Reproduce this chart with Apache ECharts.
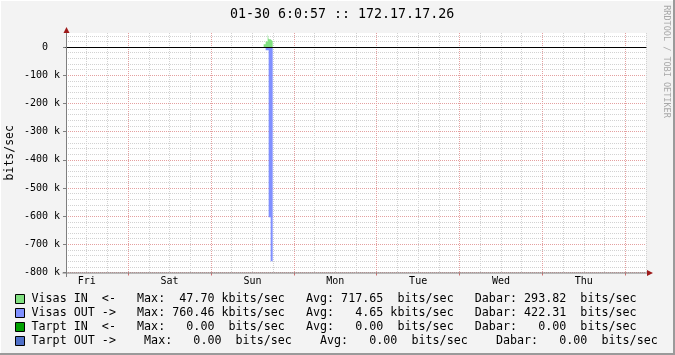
<!DOCTYPE html>
<html><head><meta charset="utf-8">
<script src="https://cdn.jsdelivr.net/npm/echarts@6/dist/echarts.min.js"></script>
<style>html,body{margin:0;padding:0;background:#F3F3F3}#c{width:675px;height:355px}</style>
</head><body><div id="c"></div>
<script>
// ---------- data ----------
const titleText = '01-30 6:0:57 :: 172.17.17.26';
const yAxisTitle = 'bits/sec';
const watermark = 'RRDTOOL / TOBI OETIKER';
const dayNames = ['Fri', 'Sat', 'Sun', 'Mon', 'Tue', 'Wed', 'Thu'];
const hourMin = 6, hourMax = 174;            // hours counted from Fri 00:00
const yMin = -800000, yMax = 50000;
const yMajorTicks = [-800000, -700000, -600000, -500000, -400000, -300000, -200000, -100000, 0];
const seriesNames = ['Visas IN', 'Visas OUT', 'Tarpt IN', 'Tarpt OUT'];
const seriesArrows = ['<-', '->', '<-', '->'];
const visasIn  = [[63.25, 10000], [63.83, 20000], [64.41, 47700], [64.70, 28000], [65.28, 21000], [65.86, 0]];
const visasOut = [[63.83, -11000], [64.70, -604000], [65.28, -760460], [65.86, 0]];
const tarptIn  = [];
const tarptOut = [];
const maxVals  = [47.70, 760.46, 0.00, 0.00];
const maxUnits = ['k', 'k', ' ', ' '];
const avgVals  = [717.65, 4.65, 0.00, 0.00];
const avgUnits = [' ', 'k', ' ', ' '];
const curVals  = [293.82, 422.31, 0.00, 0.00];
const curUnits = [' ', ' ', ' ', ' '];

// ---------- style / layout ----------
const FONT = 'DejaVu Sans Mono';
const colors = ['#80E080', '#8090FF', '#00A000', '#5070C8'];
const gridMinor = '#D2D2D2', gridMajor = '#E4A0A0';
const rowGaps = [3, 3, 3, 4];
const G = { left: 66, right: 29, top: 33, bottom: 82.5 };
const W = 675, H = 355;
const axisX = G.left + 0.5, axisY = H - G.bottom + 0.5;
const arrowColor = '#9E1A1A';

const dataSets = [visasIn, visasOut, tarptIn, tarptOut];
const midnightTicks = dayNames.map((d, i) => 24 * (i + 1));
const noonTicks = dayNames.map((d, i) => 12 + 24 * i);

function part(label, v, unit) {
  return label + ':' + v.toFixed(2).padStart(7) + ' ' + unit + 'bits/sec';
}
function legendRow(i) {
  const gap = ' '.repeat(rowGaps[i]);
  return seriesNames[i].padEnd(10) + seriesArrows[i] + gap +
    part('Max', maxVals[i], maxUnits[i]) + gap +
    part('Avg', avgVals[i], avgUnits[i]) + gap +
    part('Dabar', curVals[i], curUnits[i]);
}

const hidden = { axisLine: { show: false, onZero: false }, axisTick: { show: false }, axisLabel: { show: false }, splitLine: { show: false } };

const chart = echarts.init(document.getElementById('c'), null, { renderer: 'canvas', width: W, height: H });
chart.setOption({
  backgroundColor: '#F3F3F3',
  animation: false,
  title: {
    text: titleText, left: 230, top: 8, padding: 0,
    textStyle: { fontFamily: FONT, fontSize: 13.3, fontWeight: 'normal', color: '#000' }
  },
  legend: {
    orient: 'vertical', left: 15, top: 292, itemGap: 0, itemWidth: 9, itemHeight: 9,
    icon: 'rect', selectedMode: false, padding: 0,
    itemStyle: { borderColor: '#000', borderWidth: 1 },
    textStyle: { fontFamily: FONT, fontSize: 11.7, color: '#000', lineHeight: 14, padding: [0, 0, 0, 2] },
    data: seriesNames,
    formatter: name => legendRow(seriesNames.indexOf(name))
  },
  grid: { left: G.left, right: G.right, top: G.top, bottom: G.bottom, show: true, backgroundColor: '#FFFFFF', borderWidth: 0, containLabel: false, outerBoundsMode: 'none' },
  xAxis: [
    // minor/major grid (every 6 h, red at midnight)
    Object.assign({}, hidden, {
      type: 'value', min: hourMin, max: hourMax, interval: 6, position: 'bottom',
      splitLine: { show: true, lineStyle: { color: [gridMinor, gridMinor, gridMinor, gridMajor], type: [1, 1], width: 1 } }
    }),
    // zero line
    Object.assign({}, hidden, {
      type: 'value', min: hourMin, max: hourMax, position: 'bottom', z: 10,
      axisLine: { show: true, onZero: true, lineStyle: { color: '#000', width: 1 } }
    }),
    // day labels and midnight ticks
    Object.assign({}, hidden, {
      type: 'value', min: hourMin, max: hourMax, position: 'bottom',
      axisTick: { show: true, customValues: midnightTicks, length: 3, lineStyle: { color: '#D07070' } },
      axisLabel: {
        show: true, customValues: noonTicks, margin: 4, color: '#000', fontFamily: FONT, fontSize: 10,
        formatter: v => (v % 24 === 12 ? dayNames[Math.floor(v / 24)] : '')
      }
    })
  ],
  yAxis: [
    Object.assign({}, hidden, {
      type: 'value', min: yMin, max: yMax, interval: 20000,
      splitLine: { show: true, showMaxLine: false, lineStyle: { color: [gridMajor, gridMinor, gridMinor, gridMinor, gridMinor], type: [1, 1], width: 1 } }
    }),
    Object.assign({}, hidden, {
      type: 'value', min: yMin, max: yMax, position: 'left', offset: 0,
      axisTick: { show: true, customValues: yMajorTicks, length: 3, lineStyle: { color: '#7F7F7F' } },
      axisLabel: {
        show: true, customValues: yMajorTicks, margin: 6, color: '#000', fontFamily: FONT, fontSize: 10,
        formatter: v => (v === 0 ? '0  ' : (v / 1000) + ' k')
      },
      name: yAxisTitle, nameLocation: 'middle', nameRotate: 90, nameGap: 50, nameMoveOverlap: false,
      nameTextStyle: { fontFamily: FONT, fontSize: 11.5, color: '#000' }
    })
  ],
  series: seriesNames.map((n, i) => ({
    name: n, type: 'line', step: 'end', data: dataSets[i], xAxisIndex: 0, yAxisIndex: 0,
    showSymbol: false, symbol: 'none', color: colors[i],
    lineStyle: { width: 0, opacity: 0 },
    areaStyle: { color: colors[i], opacity: 1, origin: 0 },
    emphasis: { disabled: true }, silent: true
  })),
  graphic: [
    // frame
    { type: 'line', shape: { x1: 0, y1: 0.5, x2: W, y2: 0.5 }, style: { stroke: '#FFFFFF', lineWidth: 1 } },
    { type: 'line', shape: { x1: 0.5, y1: 0, x2: 0.5, y2: H }, style: { stroke: '#FFFFFF', lineWidth: 1 } },
    { type: 'line', shape: { x1: 0, y1: H - 1, x2: W, y2: H - 1 }, style: { stroke: '#9A9A9A', lineWidth: 2 } },
    { type: 'line', shape: { x1: W - 1, y1: 0, x2: W - 1, y2: H }, style: { stroke: '#9A9A9A', lineWidth: 2 } },
    // axis lines
    { type: 'line', z: 20, shape: { x1: axisX, y1: axisY + 4, x2: axisX, y2: G.top - 1 }, style: { stroke: '#7F7F7F', lineWidth: 1 } },
    { type: 'line', z: 20, shape: { x1: axisX - 4, y1: axisY, x2: W - G.right + 2, y2: axisY }, style: { stroke: '#7F7F7F', lineWidth: 1 } },
    // arrows
    { type: 'polygon', z: 21, shape: { points: [[axisX - 3, G.top], [axisX, G.top - 6], [axisX + 3, G.top]] }, style: { fill: arrowColor } },
    { type: 'polygon', z: 21, shape: { points: [[W - G.right + 1, axisY - 3], [W - G.right + 7, axisY], [W - G.right + 1, axisY + 3]] }, style: { fill: arrowColor } },
    // watermark
    { type: 'text', x: 666, y: 61.5, rotation: -Math.PI / 2,
      style: { text: watermark, font: '8.5px "DejaVu Sans Mono"', fill: '#A8A8A8', align: 'center', verticalAlign: 'middle' } }
  ]
});
</script></body></html>
